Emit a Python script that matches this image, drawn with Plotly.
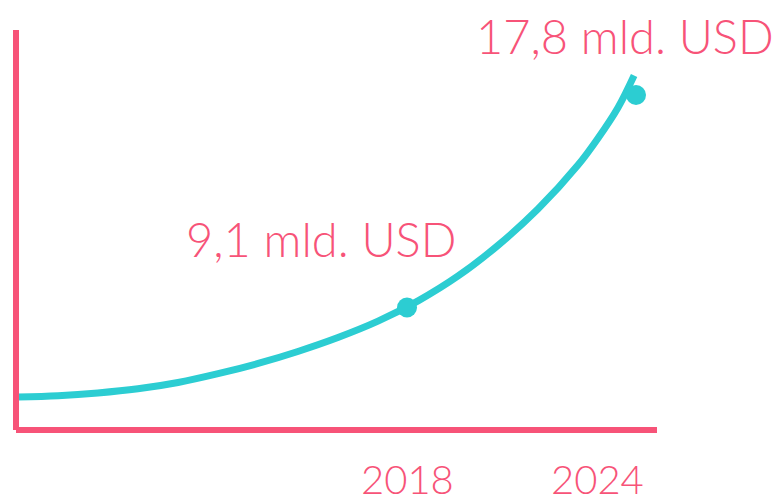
import plotly.graph_objects as go

# Curve (year, value in mld. USD)
curve_years = [2007.81, 2008.86, 2009.90, 2010.95, 2012.00, 2013.05, 2014.10,
               2015.14, 2016.19, 2017.24, 2018.29, 2019.34, 2020.38, 2021.43,
               2022.48, 2023.00, 2023.53, 2023.95]
curve_values = [5.44, 5.49, 5.60, 5.77, 6.03, 6.39, 6.81,
                7.30, 7.87, 8.54, 9.37, 10.39, 11.64, 13.13,
                14.93, 16.02, 17.29, 18.60]

# Highlighted points
point_years = [2018, 2024]
point_values = [9.1, 17.8]
point_labels = ["9,1 mld. USD", "17,8 mld. USD"]

# X tick labels
tick_years = [2018, 2024]
tick_labels = ["2018", "2024"]

PINK = "#F75378"
TEAL = "#2CCDD2"
FONT = "Lato"

fig = go.Figure()
fig.add_trace(go.Scatter(
    x=curve_years, y=curve_values, mode="lines",
    line=dict(color=TEAL, width=7, shape="spline", smoothing=1.0),
    hoverinfo="skip", showlegend=False))
fig.add_trace(go.Scatter(
    x=point_years, y=point_values, mode="markers",
    marker=dict(color=TEAL, size=20),
    showlegend=False, cliponaxis=False))

label_shifts = [(-86, 69), (-11, 59)]
for xv, yv, txt, (dx, dy) in zip(point_years, point_values, point_labels, label_shifts):
    fig.add_annotation(x=xv, y=yv, xref="x", yref="y", text=txt, showarrow=False,
                       xanchor="center", yanchor="middle", xshift=dx, yshift=dy,
                       font=dict(family=FONT, size=47, color=PINK, weight=300))

tick_shifts = [0, -39]
for xv, txt, dx in zip(tick_years, tick_labels, tick_shifts):
    fig.add_annotation(x=xv, y=0, xref="x", yref="paper", text=txt, showarrow=False,
                       xanchor="center", yanchor="middle", xshift=dx, yshift=-49,
                       height=36, valign="middle", borderpad=0,
                       font=dict(family=FONT, size=40, color=PINK, weight=300))

# axes drawn as lines
fig.add_shape(type="line", xref="paper", yref="paper", x0=0, x1=0, y0=0, y1=1,
              line=dict(color=PINK, width=6))
fig.add_shape(type="line", xref="paper", yref="paper", x0=0, x1=1, y0=0, y1=0,
              line=dict(color=PINK, width=6))

fig.update_xaxes(range=[2007.755, 2024.55], visible=False, showgrid=False, zeroline=False)
fig.update_yaxes(range=[4.085, 20.461], visible=False, showgrid=False, zeroline=False)

fig.update_layout(
    width=774, height=490,
    margin=dict(l=8, r=125, t=22, b=68),
    paper_bgcolor="white", plot_bgcolor="white",
    showlegend=False,
)

fig.write_html("out.html")
